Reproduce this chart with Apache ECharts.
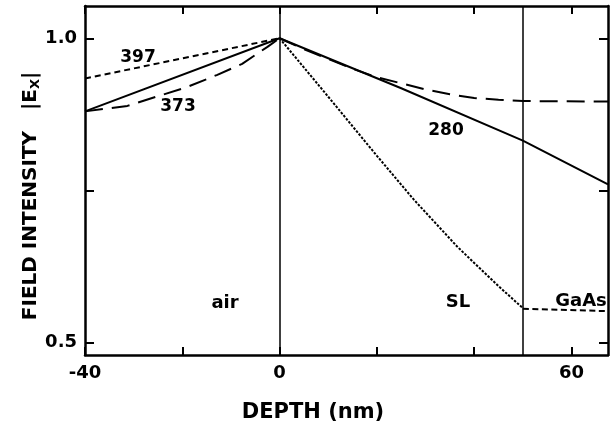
<!DOCTYPE html>
<html><head><meta charset="utf-8">
<script src="https://cdn.jsdelivr.net/npm/echarts@6/dist/echarts.min.js"></script>
<style>html,body{margin:0;padding:0;background:#fff}#c{width:612px;height:423px}</style>
</head><body><div id="c"></div>
<script>
// ---- data ----
const depth280 = [-40, 0, 25, 50, 67.5];
const field280 = [0.880, 1.0, 0.918, 0.832, 0.760];
const depth373Air = [-40, -31.3, -19, -12.8, -7.7, -2.5, 0];
const field373Air = [0.880, 0.889, 0.920, 0.940, 0.958, 0.986, 1.0];
const depth373Sub = [0, 5, 10, 15, 20, 25, 30, 35, 40, 45, 50, 67.5];
const field373Sub = [1.0, 0.982, 0.966, 0.950, 0.936, 0.926, 0.916, 0.908, 0.902, 0.899, 0.897, 0.896];
const depth397Air = [-40, 0];
const field397Air = [0.934, 1.0];
const depth397SL = [0, 10, 20, 27.6, 36.5, 45, 50];
const field397SL = [1.0, 0.904, 0.807, 0.735, 0.658, 0.593, 0.557];
const depth397GaAs = [50, 67.5];
const field397GaAs = [0.556, 0.552];
const interfaces = [0, 50];
const xTicks = [-40, -20, 0, 20, 40, 60];
const xLabels = [-40, 0, 60];
const yTicks = [0.5, 0.75, 1.0];
const yLabels = [0.5, 1.0];
const curveNames = ['397', '373', '280'];
const regionNames = ['air', 'SL', 'GaAs'];

const zip = (a, b) => a.map((v, i) => [v, b[i]]);
const FONT = '"DejaVu Sans", sans-serif';
const black = '#000';

function lineSeries(xs, ys, type, width) {
  return {
    type: 'line', data: zip(xs, ys), symbol: 'none', showSymbol: false,
    lineStyle: { color: black, width: width || 2, type: type },
    silent: true, z: 3
  };
}

const axisLine = { show: true, onZero: false, lineStyle: { color: black, width: 2.5 } };
const xTick = { show: true, inside: true, length: 8, customValues: xTicks, lineStyle: { color: black, width: 2 } };
const yTick = { show: true, inside: true, length: 9, customValues: yTicks, lineStyle: { color: black, width: 2 } };
const labelStyle = { color: black, fontFamily: FONT, fontWeight: 'bold', fontSize: 18 };

const series = [
  lineSeries(depth280, field280, 'solid', 2),
  lineSeries(depth373Air, field373Air, [18, 9], 2),
  lineSeries(depth373Sub, field373Sub, [18, 9], 2),
  lineSeries(depth397Air, field397Air, [6, 4], 2),
  lineSeries(depth397SL, field397SL, [2.5, 1.5], 2),
  lineSeries(depth397GaAs, field397GaAs, [6, 3.5], 2)
];
series[0].markLine = {
  silent: true, symbol: ['none', 'none'], label: { show: false },
  lineStyle: { color: black, width: 1.5, type: 'solid' },
  data: interfaces.map(v => ({ xAxis: v }))
};

const txt = (t, x, y, size) => ({
  type: 'text', x: x, y: y, silent: true,
  style: { text: t, font: 'bold ' + (size || 18) + 'px ' + FONT, fill: black, align: 'center', verticalAlign: 'middle' }
});

const option = {
  animation: false,
  backgroundColor: '#fff',
  grid: { left: 85, right: 4, top: 6, bottom: 68, containLabel: false },
  xAxis: [
    { type: 'value', min: -40, max: 67.5, position: 'bottom', axisLine: axisLine, axisTick: xTick,
      axisLabel: Object.assign({ customValues: xLabels, margin: 9, formatter: v => String(v) }, labelStyle),
      splitLine: { show: false } },
    { type: 'value', min: -40, max: 67.5, position: 'top', axisLine: axisLine, axisTick: xTick,
      axisLabel: { show: false }, splitLine: { show: false } }
  ],
  yAxis: [
    { type: 'value', min: 0.48, max: 1.053, position: 'left', axisLine: axisLine, axisTick: yTick,
      axisLabel: Object.assign({ customValues: yLabels, margin: 8, formatter: v => v.toFixed(1) }, labelStyle),
      splitLine: { show: false } },
    { type: 'value', min: 0.48, max: 1.053, position: 'right', axisLine: axisLine, axisTick: yTick,
      axisLabel: { show: false }, splitLine: { show: false } }
  ],
  series: series,
  graphic: [
    txt(curveNames[0], 138, 58, 17),
    txt(curveNames[1], 178, 107, 17),
    txt(curveNames[2], 446, 131, 17),
    txt(regionNames[0], 225, 303, 18),
    txt(regionNames[1], 458, 302, 18),
    txt(regionNames[2], 581, 301, 18),
    txt('DEPTH (nm)', 313, 413, 21),
    {
      type: 'text', x: 31, y: 196, rotation: Math.PI / 2, silent: true,
      style: {
        text: '{n|FIELD INTENSITY   |E}{s|X}{n||}',
        align: 'center', verticalAlign: 'middle', fill: black,
        rich: {
          n: { font: 'bold 20px ' + FONT, fill: black },
          s: { font: 'bold 13px ' + FONT, fill: black, padding: [10, 0, 0, 0] }
        }
      }
    }
  ]
};

const chart = echarts.init(document.getElementById('c'), null, { renderer: 'canvas' });
chart.setOption(option);
</script>
</body></html>
